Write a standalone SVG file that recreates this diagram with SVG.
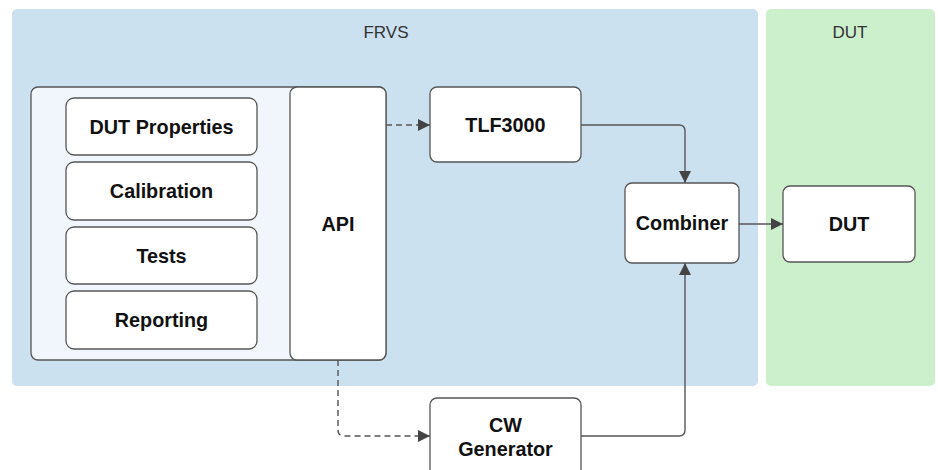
<svg xmlns="http://www.w3.org/2000/svg" width="938" height="470" viewBox="0 0 938 470">
<defs>
<style>
.node rect{fill:#fff;stroke:#555;stroke-width:1.3}
.lbl{font-family:"Liberation Sans",Arial,sans-serif;font-weight:bold;font-size:19.8px;fill:#111;text-anchor:middle}
.cl{font-family:"Liberation Sans",Arial,sans-serif;font-size:17px;fill:#333;text-anchor:middle}
.edge{fill:none;stroke:#555;stroke-width:1.4}
.dash{stroke-dasharray:6 4}
</style>
<marker id="ah" viewBox="0 0 10 10" refX="10" refY="5" markerWidth="12" markerHeight="12" markerUnits="userSpaceOnUse" orient="auto"><path d="M0,0 L10,5 L0,10 z" fill="#444"/></marker>
</defs>
<rect width="938" height="470" fill="#fff"/>
<g id="cluster-frvs"><rect x="12" y="9" width="746" height="377" rx="5" fill="#cbe1f0"/><text class="cl" x="386" y="38">FRVS</text></g>
<g id="cluster-dut"><rect x="766" y="9" width="169" height="377" rx="5" fill="#cdf0cc"/><text class="cl" x="850" y="38">DUT</text></g>
<g id="frvs-core" class="node"><rect x="31" y="87" width="355" height="273" rx="7" style="fill:#f0f6fb"/></g>
<g id="api" class="node"><rect x="290" y="87" width="96" height="273" rx="7"/><text class="lbl" x="338" y="231">API</text></g>
<g id="dut-properties" class="node"><rect x="66" y="98" width="191" height="57" rx="8"/><text class="lbl" x="161.5" y="134">DUT Properties</text></g>
<g id="calibration" class="node"><rect x="66" y="162" width="191" height="58" rx="8"/><text class="lbl" x="161.5" y="198">Calibration</text></g>
<g id="tests" class="node"><rect x="66" y="227" width="191" height="57" rx="8"/><text class="lbl" x="161.5" y="262.5">Tests</text></g>
<g id="reporting" class="node"><rect x="66" y="291" width="191" height="58" rx="8"/><text class="lbl" x="161.5" y="327">Reporting</text></g>
<g id="tlf3000" class="node"><rect x="430" y="87" width="151" height="75" rx="7"/><text class="lbl" x="505.5" y="131.5">TLF3000</text></g>
<g id="combiner" class="node"><rect x="625" y="183" width="114" height="80" rx="7"/><text class="lbl" x="682" y="230">Combiner</text></g>
<g id="dut" class="node"><rect x="783" y="186" width="132" height="76" rx="7"/><text class="lbl" x="849" y="231">DUT</text></g>
<g id="cw-generator" class="node"><rect x="430" y="398" width="151" height="80" rx="7"/><text class="lbl" x="505.5" y="432">CW</text><text class="lbl" x="505.5" y="456">Generator</text></g>
<g id="connectors">
<path class="edge dash" d="M386,125 H430" marker-end="url(#ah)"/>
<path class="edge" d="M581,125 H679 Q685,125 685,131 V183" marker-end="url(#ah)"/>
<path class="edge" d="M739,224 H783" marker-end="url(#ah)"/>
<path class="edge" d="M581,436 H679 Q685,436 685,430 V263" marker-end="url(#ah)"/>
<path class="edge dash" d="M338,360 V430 Q338,436 344,436 H430" marker-end="url(#ah)"/>
</g>
</svg>
